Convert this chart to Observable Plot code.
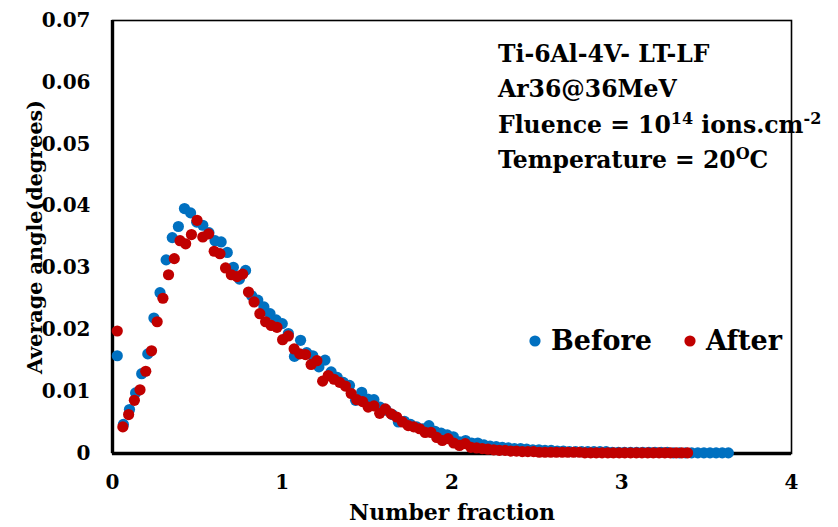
<!DOCTYPE html>
<html>
<head>
<meta charset="utf-8">
<script src="https://cdn.jsdelivr.net/npm/d3@7"></script>
<script src="https://cdn.jsdelivr.net/npm/@observablehq/plot@0.6"></script>
<style>
  html, body { margin: 0; padding: 0; background: #fff; }
  #chart svg { display: block; }
</style>
</head>
<body>
<div id="chart"></div>
<script>
// ---- data ----
const beforeX = [
  0.028,0.064,0.100,0.136,0.172,0.208,0.244,0.280,0.316,0.352,
  0.388,0.424,0.460,0.496,0.532,0.568,0.604,0.640,0.676,0.712,
  0.748,0.784,0.820,0.856,0.892,0.928,0.964,1.000,1.036,1.072,
  1.108,1.144,1.180,1.216,1.252,1.288,1.324,1.360,1.396,1.432,
  1.468,1.504,1.540,1.576,1.612,1.648,1.684,1.720,1.756,1.792,
  1.828,1.864,1.900,1.936,1.972,2.008,2.044,2.080,2.116,2.152,
  2.188,2.224,2.260,2.296,2.332,2.368,2.404,2.440,2.476,2.512,
  2.548,2.584,2.620,2.656,2.692,2.728,2.764,2.800,2.836,2.872,
  2.908,2.944,2.980,3.016,3.052,3.088,3.124,3.160,3.196,3.232,
  3.268,3.304,3.340,3.376,3.412,3.448,3.484,3.520,3.556,3.592,
  3.628
];
const beforeY = [
  0.0158,0.0047,0.0071,0.0098,0.0129,0.0161,0.0219,0.0260,0.0313,0.0349,
  0.0367,0.0396,0.0389,0.0374,0.0369,0.0357,0.0344,0.0342,0.0325,0.0301,
  0.0282,0.0296,0.0255,0.0248,0.0237,0.0226,0.0216,0.0210,0.0194,0.0157,
  0.0183,0.0163,0.0158,0.0140,0.0151,0.0132,0.0123,0.0115,0.0110,0.0086,
  0.0099,0.0088,0.0087,0.0075,0.0070,0.0063,0.0051,0.0052,0.0047,0.0043,
  0.0040,0.0045,0.0036,0.0033,0.0030,0.0027,0.0019,0.0021,0.0017,0.0017,
  0.0014,0.0012,0.0011,0.0010,0.0009,0.0008,0.0008,0.0007,0.0006,0.0006,
  0.0005,0.0005,0.0004,0.0004,0.0003,0.0003,0.0003,0.0003,0.0003,0.0003,
  0.0003,0.0002,0.0002,0.0002,0.0002,0.0002,0.0002,0.0002,0.0002,0.0002,
  0.0002,0.0001,0.0001,0.0001,0.0001,0.0001,0.0001,0.0001,0.0001,0.0001,
  0.0001
];
const afterX = [
  0.028,0.061,0.095,0.129,0.162,0.196,0.230,0.263,0.297,0.330,
  0.364,0.398,0.431,0.465,0.498,0.532,0.566,0.599,0.633,0.666,
  0.700,0.734,0.767,0.801,0.834,0.868,0.902,0.935,0.969,1.002,
  1.036,1.070,1.103,1.137,1.170,1.204,1.238,1.271,1.305,1.338,
  1.372,1.406,1.439,1.473,1.506,1.540,1.574,1.607,1.641,1.674,
  1.708,1.742,1.775,1.809,1.842,1.876,1.910,1.943,1.977,2.010,
  2.044,2.078,2.111,2.145,2.178,2.212,2.246,2.279,2.313,2.346,
  2.380,2.414,2.447,2.481,2.514,2.548,2.582,2.615,2.649,2.682,
  2.716,2.750,2.783,2.817,2.850,2.884,2.918,2.951,2.985,3.018,
  3.052,3.086,3.119,3.153,3.186,3.220,3.254,3.287,3.321,3.354,
  3.388
];
const afterY = [
  0.0198,0.0043,0.0063,0.0086,0.0103,0.0133,0.0166,0.0213,0.0251,0.0289,
  0.0315,0.0344,0.0339,0.0354,0.0377,0.0350,0.0355,0.0327,0.0323,0.0300,
  0.0289,0.0286,0.0290,0.0261,0.0245,0.0226,0.0213,0.0207,0.0204,0.0184,
  0.0190,0.0169,0.0161,0.0160,0.0144,0.0150,0.0117,0.0126,0.0120,0.0115,
  0.0109,0.0097,0.0087,0.0084,0.0075,0.0077,0.0065,0.0072,0.0064,0.0059,
  0.0051,0.0045,0.0043,0.0040,0.0034,0.0034,0.0026,0.0021,0.0024,0.0017,
  0.0013,0.0016,0.0010,0.0009,0.0008,0.0007,0.0006,0.0005,0.0005,0.0004,
  0.0004,0.0003,0.0003,0.0003,0.0002,0.0002,0.0002,0.0002,0.0002,0.0002,
  0.0002,0.0002,0.0001,0.0001,0.0001,0.0001,0.0001,0.0001,0.0001,0.0001,
  0.0001,0.0001,0.0001,0.0001,0.0001,0.0001,0.0001,0.0001,0.0001,0.0001,
  0.0001
];
const seriesNames = ["Before", "After"];
const seriesColors = ["#0070C0", "#C00000"];
const xTicks = [0, 1, 2, 3, 4];
const yTicks = [0, 0.01, 0.02, 0.03, 0.04, 0.05, 0.06, 0.07];
const xTitle = "Number fraction";
const yTitle = "Average angle(degrees)";

const before = beforeX.map((x, i) => ({x, y: beforeY[i]}));
const after = afterX.map((x, i) => ({x, y: afterY[i]}));

const FONT = "DejaVu Serif";

const chart = Plot.plot({
  width: 838,
  height: 527,
  marginLeft: 112,
  marginRight: 47,
  marginTop: 20,
  marginBottom: 74,
  style: {fontFamily: FONT, fontWeight: "bold", color: "#000", background: "#fff", overflow: "visible"},
  x: {domain: [0, 4]},
  y: {domain: [0, 0.07]},
  marks: [
    Plot.frame({stroke: "#000", strokeWidth: 1.6}),
    Plot.axisX({ticks: xTicks, tickSize: 0, tickPadding: 21, tickFormat: d => String(d), fontSize: 20, label: null}),
    Plot.axisY({ticks: yTicks, tickSize: 0, tickPadding: 22, tickFormat: d => d === 0 ? "0" : d.toFixed(2), fontSize: 20, label: null}),
    Plot.ruleX([0], {stroke: "#000", strokeWidth: 3.4}),
    Plot.ruleY([0], {stroke: "#000", strokeWidth: 3.4}),
    Plot.dot(before, {x: "x", y: "y", r: 5.6, fill: seriesColors[0], stroke: "none"}),
    Plot.dot(after, {x: "x", y: "y", r: 5.6, fill: seriesColors[1], stroke: "none"}),
    Plot.text([xTitle], {frameAnchor: "bottom", dy: 66, fontSize: 22, fontWeight: "bold", fill: "#000"}),
    Plot.text([yTitle], {frameAnchor: "left", textAnchor: "middle", dx: -77, rotate: -90, fontSize: 20.7, fontWeight: "bold", fill: "#000"})
  ]
});

const svg = d3.select(chart);

// annotation block (top right)
const ann = svg.append("g")
  .attr("font-family", FONT)
  .attr("font-weight", "bold")
  .attr("font-size", 23.5)
  .attr("text-anchor", "start")
  .attr("fill", "#000");
const left = 498;
ann.append("text").attr("x", left).attr("y", 62).text("Ti-6Al-4V- LT-LF");
ann.append("text").attr("x", left).attr("y", 97).text("Ar36@36MeV");
const t3 = ann.append("text").attr("x", left).attr("y", 133);
t3.append("tspan").text("Fluence = 10");
t3.append("tspan").attr("dy", -9).attr("font-size", 16).text("14");
t3.append("tspan").attr("dy", 9).text(" ions.cm");
t3.append("tspan").attr("dy", -9).attr("font-size", 16).text("-2");
const t4 = ann.append("text").attr("x", left).attr("y", 168);
t4.append("tspan").text("Temperature = 20");
t4.append("tspan").attr("dy", -9).attr("font-size", 16).text("O");
t4.append("tspan").attr("dy", 9).text("C");

// legend
const leg = svg.append("g")
  .attr("font-family", FONT)
  .attr("font-weight", "bold")
  .attr("font-size", 27)
  .attr("text-anchor", "start");
const legItems = [{x: 535}, {x: 690}];
seriesNames.forEach((name, i) => {
  const g = leg.append("g").attr("transform", `translate(${legItems[i].x},341)`);
  g.append("circle").attr("r", 5.6).attr("fill", seriesColors[i]);
  g.append("text").attr("x", 16).attr("dy", "0.35em").attr("fill", "#000").text(name);
});

document.getElementById("chart").appendChild(chart);
</script>
</body>
</html>
